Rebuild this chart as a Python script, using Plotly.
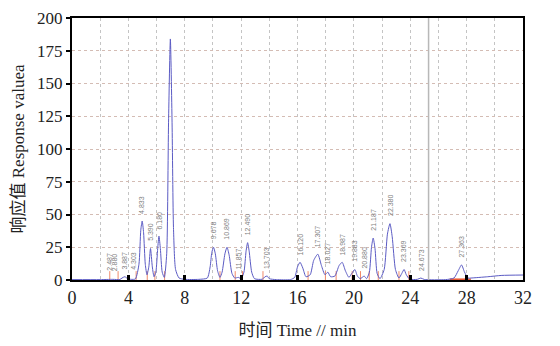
import plotly.graph_objects as go

# Chromatogram trace (time in min, response)
TIME = [0, 2.0, 2.9, 3.4, 3.55, 3.75, 3.95, 4.2, 4.5, 4.75, 4.88, 4.98, 5.08, 5.2, 5.32, 5.45, 5.57, 5.7, 5.82,
        5.95, 6.08, 6.17, 6.27, 6.4, 6.55, 6.72, 6.85, 6.98, 7.1, 7.2, 7.35, 7.6, 8.0, 9.0, 9.6, 9.8, 9.92,
        10.04, 10.17, 10.33, 10.5, 10.65, 10.85, 11.0, 11.15, 11.35, 11.55, 11.8, 12.0, 12.2, 12.35, 12.46,
        12.57, 12.75, 12.95, 13.5, 13.7, 13.85, 14.0, 14.5, 15.5, 15.8, 16.0, 16.18, 16.38, 16.6, 16.9, 17.15,
        17.44, 17.7, 17.95, 18.15, 18.35, 18.65, 18.95, 19.17, 19.4, 19.65, 19.85, 20.07, 20.25, 20.45, 20.73,
        20.9, 21.1, 21.25, 21.37, 21.5, 21.65, 21.85, 22.15, 22.38, 22.56, 22.72, 22.95, 23.2, 23.4, 23.56,
        23.72, 23.95, 24.5, 24.75, 25.0, 26.5, 27.1, 27.4, 27.64, 27.85, 28.1, 28.3, 29.5, 30.5, 32]
RESPONSE = [0.3, 0.3, 0.5, 0.4, 1.5, 2.5, 1.0, 0.5, 0.8, 12, 38, 45, 36, 12, 4, 10, 24, 10, 2.5,
            6, 24, 33.5, 24, 6, 2, 20, 120, 184, 120, 40, 8, 1.5, 0.5, 0.5, 1.5, 10, 21,
            25, 20, 7, 2, 6, 20, 25, 19, 5, 1.5, 2.0, 1, 6, 22, 28.5,
            22, 6, 1, 0.6, 2.5, 3, 1.0, 0.3, 0.3, 2, 10, 13.5, 9, 2.5, 4, 15,
            19.7, 11, 4, 6, 2.5, 3, 11, 13.5, 7, 2, 5, 8, 3, 1, 3,
            1, 6, 25, 32, 24, 5, 1, 8, 35, 43, 33, 8, 1.5, 5, 8,
            4, 0.7, 0.5, 1.5, 0.4, 0.3, 1.5, 7, 11.5, 6, 1.5, 1.5, 2.5, 3.5, 3.8]

# Peak annotations
LABEL_TEXT = ["2.487", "2.880", "3.887", "4.303", "4.833", "5.390", "6.180", "9.678", "10.869", "11.857",
              "12.490", "13.703", "16.120", "17.307", "18.027", "18.987", "19.883", "20.880", "21.187",
              "22.380", "23.369", "24.673", "27.363"]
LABEL_TIME = [2.6, 3.0, 3.75, 4.4, 4.93, 5.6, 6.2, 10.04, 11.0, 11.8, 12.46, 13.8, 16.18, 17.44, 18.15,
              19.17, 20.07, 20.73, 21.37, 22.56, 23.56, 24.75, 27.64]
LABEL_Y = [3, 3, 4, 4, 47, 26, 35, 27, 27, 4, 30, 5, 15, 21, 8, 15, 10, 5, 34, 45, 10, 3, 13]

# Integration boundary ticks (red)
BOUND_TIME = [2.68, 3.27, 4.55, 5.34, 5.88, 6.57, 10.5, 11.58, 12.1, 13.55, 16.75, 17.98, 18.74, 19.88,
              20.47, 21.09, 21.73, 23.2, 23.9]
BASELINE_SEG_T = [26.8, 28.3]
BASELINE_SEG_Y = [0.6, 0.6]
MARKER_TIME = 25.3

X_TICKS = [0, 4, 8, 12, 16, 20, 24, 28, 32]
Y_TICKS = [0, 25, 50, 75, 100, 125, 150, 175, 200]

SERIF = "Liberation Serif, Noto Sans CJK SC, serif"

fig = go.Figure()
fig.add_vline(x=MARKER_TIME, line=dict(color="#b8b8b8", width=1.5))
fig.add_trace(go.Scatter(x=BASELINE_SEG_T, y=BASELINE_SEG_Y, mode="lines",
                         line=dict(color="#e8502a", width=1.5), hoverinfo="skip"))
fig.add_trace(go.Scatter(x=BOUND_TIME, y=[2.5] * len(BOUND_TIME), mode="markers",
                         marker=dict(symbol="line-ns", size=8, line=dict(color="#f08a6a", width=1)),
                         hoverinfo="skip"))
fig.add_trace(go.Scatter(x=TIME, y=RESPONSE, mode="lines",
                         line=dict(color="#5b5bc4", width=1, shape="spline", smoothing=0.6)))

for t, yv, txt in zip(LABEL_TIME, LABEL_Y, LABEL_TEXT):
    fig.add_annotation(x=t, y=yv, text=txt, showarrow=False, textangle=-90,
                       yanchor="bottom", yshift=3, font=dict(size=7, color="#808080", family="Arial"))

# page body adds an 8px margin, so the figure is sized to fit the remaining window
fig.update_layout(
    width=552, height=338,
    margin=dict(l=64, r=37, t=10, b=66),
    paper_bgcolor="white", plot_bgcolor="white",
    showlegend=False,
    font=dict(family=SERIF, color="#222222"),
)
fig.update_xaxes(
    range=[0, 32], tickvals=X_TICKS, ticks="inside", ticklen=5, tickwidth=3, tickcolor="black",
    showline=True, linecolor="black", linewidth=2, mirror=True, automargin=False,
    ticklabeloverflow="allow",
    showgrid=True, gridcolor="#c4c4c4", griddash="dot", gridwidth=1,
    minor=dict(dtick=2, tick0=0, showgrid=True, gridcolor="#c4c4c4", griddash="dot", ticks=""),
    tickfont=dict(size=18, family=SERIF),
    title=dict(text="时间 Time // min", font=dict(size=17, family=SERIF), standoff=18),
    zeroline=False,
)
fig.update_yaxes(
    range=[0, 200], tickvals=Y_TICKS, ticks="outside", ticklen=4, tickwidth=1.5, tickcolor="black",
    showline=True, linecolor="black", linewidth=2, mirror=True, automargin=False,
    ticklabeloverflow="allow",
    showgrid=True, gridcolor="#d4bcb4", griddash="dot", gridwidth=1,
    tickfont=dict(size=17, family=SERIF),
    title=dict(text="响应值 Response valuea", font=dict(size=17, family=SERIF), standoff=8),
    zeroline=False,
)

fig.write_html("out.html")
